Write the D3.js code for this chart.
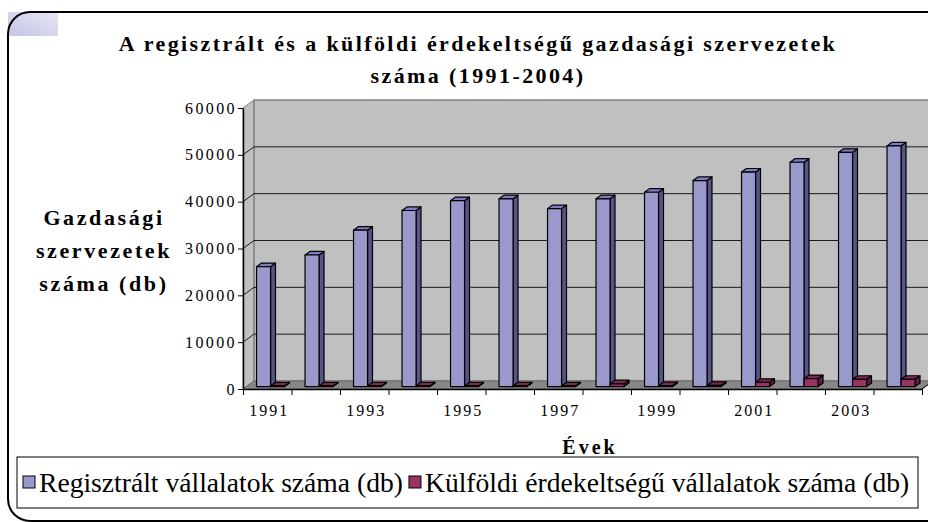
<!DOCTYPE html>
<html>
<head>
<meta charset="utf-8">
<script src="https://cdn.jsdelivr.net/npm/d3@7/dist/d3.min.js"></script>
<style>
body{margin:0;background:#fff;}
svg text{font-family:"Liberation Serif","Times New Roman",serif;fill:#000;}
</style>
</head>
<body>
<script>
// data
var years=['1991','1992','1993','1994','1995','1996','1997','1998','1999','2000','2001','2002','2003','2004'];
var registered=[25600,28100,33400,37600,39700,40100,38000,40100,41500,44000,45800,47900,50000,51400];
var foreign=[150,150,150,150,150,150,150,600,200,250,900,1700,1550,1550];
var yTicks=[0,10000,20000,30000,40000,50000,60000];
var yearLabels=['1991','1993','1995','1997','1999','2001','2003'];
var seriesNames=['Regisztrált vállalatok száma (db)','Külföldi érdekeltségű vállalatok száma (db)'];

var width=928,height=522;
var dx=11,dy=-8;      // 3d depth of the wall
var f0=0.3,f1=0.75;   // bar depth inside it

var svg=d3.select('body').append('svg')
.attr('width',width)
.attr('height',height);

var defs=svg.append('defs');
var grad=defs.append('linearGradient').attr('id','corner')
.attr('x1','0').attr('y1','1').attr('x2','1').attr('y2','0');
grad.append('stop').attr('offset','0').attr('stop-color','#c4c4e6');
grad.append('stop').attr('offset','1').attr('stop-color','#e6e6f5');

svg.append('rect')
.attr('x',8).attr('y',12).attr('width',50).attr('height',24)
.style('fill','url(#corner)');

svg.append('rect')
.attr('x',8).attr('y',12).attr('width',950).attr('height',509)
.attr('rx',22).attr('ry',22)
.style('fill','none')
.style('stroke','#000')
.style('stroke-width',2);

var x=d3.scaleBand().domain(years).range([243,922]).padding(0);
var xs=d3.scaleBand().domain(['reg','for']).range([0,x.bandwidth()]).paddingInner(0).paddingOuter(0.73);
var y=d3.scaleLinear().domain([0,60000]).range([389,108]);

var x0=x.range()[0],x1=x.range()[1];
var chart=svg.append('g');

// side wall, back wall, floor
chart.append('polygon')
.attr('points',[[x0,y(0)],[x0+dx,y(0)+dy],[x0+dx,y(60000)+dy],[x0,y(60000)]].join(' '))
.style('fill','#c0c0c0').style('stroke','#808080');
chart.append('rect')
.attr('x',x0+dx).attr('y',y(60000)+dy)
.attr('width',x1-x0).attr('height',y(0)-y(60000))
.style('fill','#c0c0c0').style('stroke','#808080').style('stroke-width',1.5);
chart.append('polygon')
.attr('points',[[x0,y(0)],[x1,y(0)],[x1+dx,y(0)+dy],[x0+dx,y(0)+dy]].join(' '))
.style('fill','#878787').style('stroke','#6a6a6a');

// gridlines
chart.selectAll('.grid')
.data(yTicks.filter(function(d){return d>0&&d<60000;}))
.enter()
.append('polyline')
.attr('class','grid')
.attr('points',function(d){return [[x0,y(d)],[x0+dx,y(d)+dy],[x1+dx,y(d)+dy]].join(' ');})
.style('fill','none')
.style('stroke','#1a1a1a')
.style('stroke-width',1);

// bars
function drawBar(g,left,w,v,cols){
    var bx=left+f0*dx,by0=y(0)+f0*dy,by=y(v)+f0*dy;
    var ddx=(f1-f0)*dx,ddy=(f1-f0)*dy;
    g.append('polygon')
    .attr('points',[[bx+w,by0],[bx+w+ddx,by0+ddy],[bx+w+ddx,by+ddy],[bx+w,by]].join(' '))
    .style('fill',cols[1]);
    g.append('polygon')
    .attr('points',[[bx,by],[bx+w,by],[bx+w+ddx,by+ddy],[bx+ddx,by+ddy]].join(' '))
    .style('fill',cols[2]);
    g.append('rect')
    .attr('x',bx).attr('y',by).attr('width',w).attr('height',by0-by)
    .style('fill',cols[0]);
}
var blueCols=['#9999cc','#55558a','#7e7ec4'];
var redCols=['#993366','#5c1f3d','#7d2a53'];
var bars=chart.append('g').attr('id','bars')
.style('stroke','#000').style('stroke-width',1.2).style('stroke-linejoin','round');
years.forEach(function(yr,i){
    var g=bars.append('g');
    drawBar(g,x(yr)+xs('reg'),xs.bandwidth(),registered[i],blueCols);
    drawBar(g,x(yr)+xs('for'),xs.bandwidth(),foreign[i],redCols);
});

// axes
var yAxis=d3.axisLeft(y)
.tickValues(yTicks)
.tickSize(5)
.tickSizeOuter(0)
.tickPadding(1)
.tickFormat(d3.format('d'));
var ya=svg.append('g').attr('transform','translate('+x0+',0)').call(yAxis);
ya.selectAll('text').style('font-size','16px').style('letter-spacing','2.4px')
.style('font-family','"Liberation Serif",serif');
ya.select('.domain').style('stroke','#000').style('stroke-width',1.5);

var xb=d3.scaleLinear().domain([0,years.length]).range([x0,x1]);
var xAxis=d3.axisBottom(xb)
.tickValues(d3.range(0,years.length+1))
.tickSize(6)
.tickSizeOuter(0)
.tickFormat('');
var xa=svg.append('g').attr('transform','translate(0,'+y(0)+')').call(xAxis);
xa.select('.domain').style('stroke','#000').style('stroke-width',1.5);
svg.append('line')
.attr('x1',x1).attr('y1',y(0)).attr('x2',x1+dx).attr('y2',y(0)+dy)
.style('stroke','#000');

var xl=d3.axisBottom(x).tickValues(yearLabels).tickSize(0).tickPadding(16);
var xla=svg.append('g').attr('transform','translate(2,'+y(0)+')').call(xl);
xla.select('.domain').remove();
xla.selectAll('text').style('font-size','16px').style('letter-spacing','2px')
.style('font-family','"Liberation Serif",serif');

// titles
var title=svg.append('text')
.attr('x',478).attr('y',51)
.attr('text-anchor','middle')
.style('font-size','22px').style('font-weight','bold').style('letter-spacing','2.4px');
title.append('tspan').attr('x',478).text('A regisztrált és a külföldi érdekeltségű gazdasági szervezetek');
title.append('tspan').attr('x',478).attr('dy',32).text('száma (1991-2004)');

var yt=svg.append('text')
.attr('text-anchor','middle')
.style('font-size','22px').style('font-weight','bold').style('letter-spacing','2.6px');
['Gazdasági','szervezetek','száma (db)'].forEach(function(s,i){
    yt.append('tspan').attr('x',104).attr('y',225+i*33).text(s);
});

svg.append('text')
.attr('x',590).attr('y',454)
.attr('text-anchor','middle')
.style('font-size','20px').style('font-weight','bold').style('letter-spacing','3px')
.text('Évek');

// legend
var legend=svg.append('g').attr('id','legend');
legend.append('rect')
.attr('x',17).attr('y',457).attr('width',901).attr('height',51)
.style('fill','#fff').style('stroke','#000').style('stroke-width',1);
var lx=23;
seriesNames.forEach(function(name,i){
    legend.append('rect')
    .attr('x',lx).attr('y',476).attr('width',12).attr('height',12)
    .style('fill',i==0?blueCols[0]:redCols[0])
    .style('stroke','#000');
    var t=legend.append('text')
    .attr('x',lx+16).attr('y',492)
    .style('font-size','27.6px')
    .text(name);
    lx+=16+t.node().getComputedTextLength()+6;
});
</script>
</body>
</html>
